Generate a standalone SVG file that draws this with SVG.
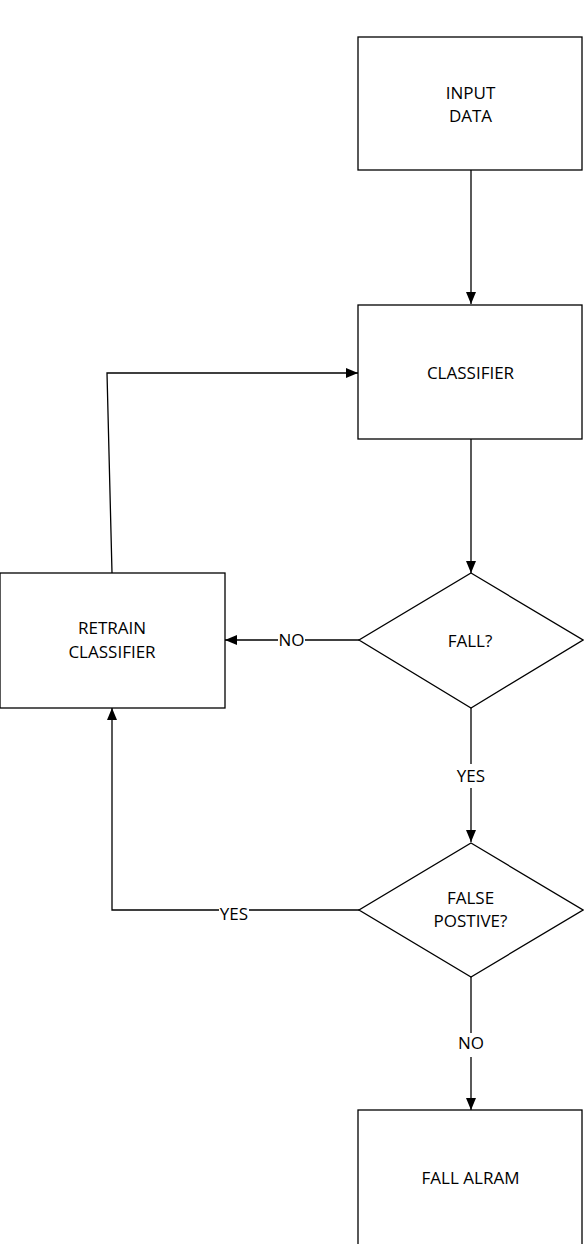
<svg xmlns="http://www.w3.org/2000/svg" width="584" height="1244" viewBox="0 0 584 1244">
<style>
.box{fill:#fff;stroke:#000;stroke-width:1.3}
.ln{fill:none;stroke:#000;stroke-width:1.3}
.t{font-family:"Open Sans","Liberation Sans",sans-serif;font-size:17px;fill:#000;text-anchor:middle}
</style>
<defs>
<marker id="ah" viewBox="0 0 12 10" refX="12" refY="5" markerWidth="12" markerHeight="10" markerUnits="userSpaceOnUse" orient="auto">
<path d="M0,0 L12,5 L0,10 z" fill="#000"/>
</marker>
</defs>
<rect width="584" height="1244" fill="#fff"/>
<g id="connectors">
<line class="ln" x1="471" y1="170" x2="471" y2="304" marker-end="url(#ah)"/>
<line class="ln" x1="471" y1="439" x2="471" y2="573" marker-end="url(#ah)"/>
<line class="ln" x1="359" y1="640" x2="225" y2="640" marker-end="url(#ah)"/>
<polyline class="ln" points="112,573 107,373 358,373" marker-end="url(#ah)"/>
<line class="ln" x1="471" y1="708" x2="471" y2="842" marker-end="url(#ah)"/>
<polyline class="ln" points="359,910 112,910 112,708" marker-end="url(#ah)"/>
<line class="ln" x1="471" y1="977" x2="471" y2="1110" marker-end="url(#ah)"/>
<rect x="278" y="630" width="27" height="18" fill="#fff"/>
<text class="t" x="291.5" y="646">NO</text>
<rect x="457" y="764" width="28" height="24" fill="#fff"/>
<text class="t" x="471" y="782">YES</text>
<rect x="219" y="908" width="30" height="16" fill="#fff"/>
<text class="t" x="234" y="920">YES</text>
<rect x="459" y="1033" width="24" height="24" fill="#fff"/>
<text class="t" x="471" y="1049">NO</text>
</g>
<g id="input-data">
<rect class="box" x="358" y="37" width="224" height="133"/>
<text class="t" x="470.5" y="99">INPUT</text>
<text class="t" x="470.5" y="121.5">DATA</text>
</g>
<g id="classifier">
<rect class="box" x="358" y="305" width="224" height="134"/>
<text class="t" x="470.5" y="378.5">CLASSIFIER</text>
</g>
<g id="fall">
<polygon class="box" points="471,573 583,640 471,708 359,640"/>
<text class="t" x="470" y="647">FALL?</text>
</g>
<g id="retrain">
<rect class="box" x="0" y="573" width="225" height="135"/>
<text class="t" x="112" y="634">RETRAIN</text>
<text class="t" x="112" y="658">CLASSIFIER</text>
</g>
<g id="false-positive">
<polygon class="box" points="471,843 583,910 471,977 359,910"/>
<text class="t" x="470.5" y="904">FALSE</text>
<text class="t" x="470.5" y="927">POSTIVE?</text>
</g>
<g id="fall-alram">
<rect class="box" x="358" y="1110" width="224" height="140"/>
<text class="t" x="470.5" y="1184">FALL ALRAM</text>
</g>
</svg>
